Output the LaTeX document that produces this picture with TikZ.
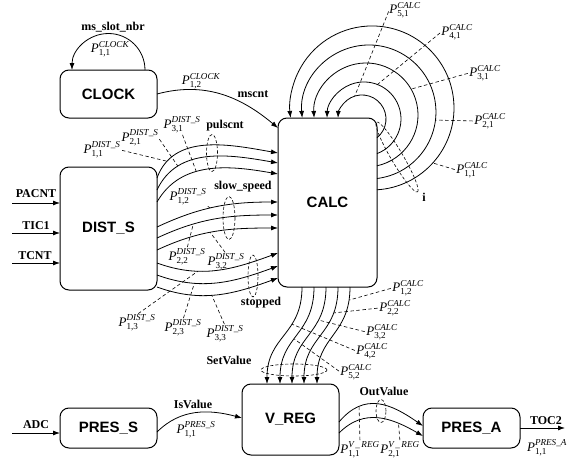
\documentclass[tikz,border=0pt]{standalone}
\usepackage{fontspec}
\setmainfont{Liberation Serif}
\setsansfont{Liberation Sans}
\usepackage{amsmath}
\usetikzlibrary{arrows.meta,calc,shapes.geometric}
\newcommand{\portp}[2]{$\textit{P}^{\textit{#1}}_{\text{#2}}$}

\begin{document}
\begin{tikzpicture}[
      x=1pt, y=-1pt,
      >={Latex[length=7pt,width=5pt]},
      flow/.style={->, line width=0.8pt},
      probe/.style={line width=0.6pt, dash pattern=on 3.5pt off 2.5pt, shorten <=1.5pt},
      task/.style={draw, line width=1pt, rounded corners=9pt, outer sep=0pt,
        minimum width=97pt, font=\sffamily\bfseries\fontsize{15}{17}\selectfont},
      signame/.style={font=\bfseries\fontsize{12}{14}\selectfont, inner sep=0pt},
      port/.style={font=\fontsize{13}{15}\selectfont, inner sep=0pt},
      bundle/.style={draw, ellipse, line width=0.6pt, dash pattern=on 3pt off 2pt, inner sep=0pt}
    ]
    \useasboundingbox (0,0) rectangle (571,466);

    % Tasks
    \node[task, minimum height=48pt] (clock) at (108.5,94) {CLOCK};
    \node[task, minimum width=99pt, minimum height=169pt] (calc) at (327.5,202.5) {CALC};
    \node[task, minimum height=123pt] (dist) at (108.5,228.5) {DIST\_S};
    \node[task, minimum height=40pt] (press) at (108.5,428) {PRES\_S};
    \node[task, minimum height=71pt] (vreg) at (290.5,419.5) {V\_REG};
    \node[task, minimum height=40pt] (presa) at (471.5,428) {PRES\_A};

    % Clock
    \draw[flow] ($(clock.north)+(36.5,0)$) arc[start angle=0, end angle=-180, radius=36.5];
    \node[signame] (slotnbr) at (113,27) {ms\_slot\_nbr};
    \node[port] (pk11) at (110,49) {\portp{CLOCK}{1,1}};
    \draw[flow] (clock.east) to[out=15, in=140] ($(calc.north west)+(0,10)$);
    \node[port] (pk12) at (201,81) {\portp{CLOCK}{1,2}};
    \node[signame] (mscnt) at (253,94) {mscnt};

    % Inputs of DIST_S
    \coordinate (pacnt) at (12,203);
    \coordinate (tic1) at (12,233);
    \coordinate (tcnt) at (12,263);
    \draw[flow] (pacnt) -- (pacnt -| dist.west);
    \draw[flow] (tic1) -- (tic1 -| dist.west);
    \draw[flow] (tcnt) -- (tcnt -| dist.west);
    \node[signame] (pacntl) at (36,194) {PACNT};
    \node[signame] (tic1l) at (36,226) {TIC1};
    \node[signame] (tcntl) at (35,256) {TCNT};

    % DIST_S to CALC: pulscnt
    \draw[flow] ($(dist.north east)+(0,11)$) to[out=70, in=170] coordinate[pos=0.15] (pu1) ($(calc.north west)+(0,35)$);
    \draw[flow] ($(dist.north east)+(0,23)$) to[out=65, in=170] coordinate[pos=0.25] (pu2) ($(calc.north west)+(0,45)$);
    \draw[flow] ($(dist.north east)+(0,35)$) to[out=60, in=170] coordinate[pos=0.4] (pu3) ($(calc.north west)+(0,56)$);
    \node[bundle, minimum width=11pt, minimum height=37pt] (pulsell) at (212,153) {};
    \node[signame] (pulscnt) at (225,126) {pulscnt};
    \node[port] (pd11) at (102,150) {\portp{DIST\_S}{1,1}};
    \node[port] (pd21) at (140,138) {\portp{DIST\_S}{2,1}};
    \node[port] (pd31) at (182,125) {\portp{DIST\_S}{3,1}};
    \draw[probe] (pd11.east) -- (pu1);
    \draw[probe] (pd21.east) -- (pu2);
    \draw[probe] (pd31.south) -- (pu3);

    % DIST_S to CALC: slow_speed
    \draw[flow] ($(dist.north east)+(0,60)$) to[out=25, in=180] coordinate[pos=0.45] (sl1) ($(calc.north west)+(0,84)$);
    \draw[flow] ($(dist.north east)+(0,71)$) to[out=25, in=180] coordinate[pos=0.3] (sl2) ($(calc.north west)+(0,97)$);
    \draw[flow] ($(dist.north east)+(0,83)$) to[out=25, in=180] coordinate[pos=0.45] (sl3) ($(calc.north west)+(0,110)$);
    \node[bundle, minimum width=12pt, minimum height=43pt] (slowell) at (229,218) {};
    \node[signame] (slowsp) at (243,187) {slow\_speed};
    \node[port] (pd12) at (188,197) {\portp{DIST\_S}{1,2}};
    \node[port] (pd22) at (187,257) {\portp{DIST\_S}{2,2}};
    \node[port] (pd32) at (226,262) {\portp{DIST\_S}{3,2}};
    \draw[probe] (pd12.south east) -- (sl1);
    \draw[probe] (pd22.north) -- (sl2);
    \draw[probe] (pd32.north) -- (sl3);

    % DIST_S to CALC: stopped
    \draw[flow] ($(dist.north east)+(0,96)$) to[out=-20, in=200] coordinate[pos=0.33] (st1) ($(calc.north west)+(0,135)$);
    \draw[flow] ($(dist.north east)+(0,108)$) to[out=-20, in=200] coordinate[pos=0.3] (st2) ($(calc.north west)+(0,148)$);
    \draw[flow] ($(dist.north east)+(0,120)$) to[out=-20, in=200] coordinate[pos=0.45] (st3) ($(calc.north west)+(0,160)$);
    \node[bundle, minimum width=10pt, minimum height=42pt] (stopell) at (253,276) {};
    \node[signame] (stopped) at (261,303) {stopped};
    \node[port] (pd13) at (137,323) {\portp{DIST\_S}{1,3}};
    \node[port] (pd23) at (183,328) {\portp{DIST\_S}{2,3}};
    \node[port] (pd33) at (225,334) {\portp{DIST\_S}{3,3}};
    \draw[probe] (pd13.north) -- (st1);
    \draw[probe] (pd23.north) -- (st2);
    \draw[probe] (pd33.north) -- (st3);

    % CALC loops
    \draw[flow] ($(calc.north east)+(0,19.7)$) arc[start angle=51.3, end angle=-177.6, radius=24];
    \draw[flow] ($(calc.north east)+(0,35.6)$) arc[start angle=69.4, end angle=-178.5, radius=37];
    \draw[flow] ($(calc.north east)+(0,47.8)$) arc[start angle=77.8, end angle=-183.3, radius=52];
    \draw[flow] ($(calc.north east)+(0,60.5)$) arc[start angle=83.1, end angle=-185.1, radius=67];
    \draw[flow] ($(calc.north east)+(0,71.8)$) arc[start angle=86.5, end angle=-187, radius=82];
    \coordinate (cl1) at ($(362,119)+(-107.6:24)$);
    \coordinate (cl2) at ($(364,119)+(-68.7:37)$);
    \coordinate (cl3) at ($(366,115)+(-29.9:52)$);
    \coordinate (cl4) at ($(369,112)+(6.9:67)$);
    \coordinate (cl5) at ($(372,108)+(42.1:82)$);
    \node[port] (pc51) at (405,10) {\portp{CALC}{5,1}};
    \node[port] (pc41) at (457,32) {\portp{CALC}{4,1}};
    \node[port] (pc31) at (485,73) {\portp{CALC}{3,1}};
    \node[port] (pc21) at (490,121) {\portp{CALC}{2,1}};
    \node[port] (pc11) at (472,170) {\portp{CALC}{1,1}};
    \draw[probe] (pc51.west) -- (cl1);
    \draw[probe] (pc41.west) -- (cl2);
    \draw[probe] (pc31.west) -- (cl3);
    \draw[probe] (pc21.west) -- (cl4);
    \draw[probe] (pc11.west) -- (cl5);
    \node[bundle, minimum width=81pt, minimum height=12pt, rotate=-59.6] (iell) at (397,157) {};
    \node[signame] (ilab) at (424,197) {i};

    % CALC to V_REG
    \draw[flow] ($(calc.south west)+(24,0)$) to[out=-90, in=90, looseness=1.2] coordinate[pos=0.35] (cv1) ($(vreg.north west)+(25,0)$);
    \draw[flow] ($(calc.south west)+(36,0)$) to[out=-90, in=90, looseness=1.2] coordinate[pos=0.55] (cv2) ($(vreg.north west)+(38,0)$);
    \draw[flow] ($(calc.south west)+(48,0)$) to[out=-90, in=90, looseness=1.2] coordinate[pos=0.3] (cv3) ($(vreg.north west)+(50,0)$);
    \draw[flow] ($(calc.south west)+(60,0)$) to[out=-90, in=90, looseness=1.2] coordinate[pos=0.22] (cv4) ($(vreg.north west)+(62,0)$);
    \draw[flow] ($(calc.south west)+(72,0)$) to[out=-90, in=90, looseness=1.2] coordinate[pos=0.1] (cv5) ($(vreg.north west)+(75,0)$);
    \node[port] (pc12) at (408,288) {\portp{CALC}{1,2}};
    \node[port] (pc22) at (395,308) {\portp{CALC}{2,2}};
    \node[port] (pc32) at (382,332) {\portp{CALC}{3,2}};
    \node[port] (pc42) at (372,351) {\portp{CALC}{4,2}};
    \node[port] (pc52) at (356,372) {\portp{CALC}{5,2}};
    \draw[probe] (pc12.west) -- (cv5);
    \draw[probe] (pc22.west) -- (cv4);
    \draw[probe] (pc32.west) -- (cv3);
    \draw[probe] (pc42.west) -- (cv1);
    \draw[probe] (pc52.west) -- (cv2);
    \node[bundle, minimum width=66pt, minimum height=12pt] (setell) at (294,370) {};
    \node[signame] (setval) at (229,360) {SetValue};

    % PRES_S to V_REG
    \coordinate (adc) at (12,433);
    \draw[flow] (adc) -- (adc -| press.west);
    \node[signame] (adcl) at (36,425) {ADC};
    \draw[flow] ($(press.east)+(0,4)$) to[out=45, in=165] ($(vreg.west)+(0,-1.5)$);
    \node[signame] (isval) at (193,404) {IsValue};
    \node[port] (pps) at (196,430) {\portp{PRES\_S}{1,1}};

    % V_REG to PRES_A
    \draw[flow] ($(vreg.east)+(0,2.5)$) to[out=50, in=145, looseness=1.2] coordinate[pos=0.26] (vr1) ($(presa.west)+(0,-2)$);
    \draw[flow] ($(vreg.east)+(0,13.5)$) to[out=45, in=150, looseness=1.1] coordinate[pos=0.73] (vr2) ($(presa.west)+(0,8)$);
    \node[bundle, minimum width=10pt, minimum height=23pt] (outell) at (381,411) {};
    \node[signame] (outval) at (384,391) {OutValue};
    \node[port] (pv1) at (360,450) {\portp{V\,\_\,REG}{1,1}};
    \node[port] (pv2) at (400,450) {\portp{V\,\_\,REG}{2,1}};
    \draw[probe] (pv1.north) -- (vr1);
    \draw[probe] (pv2.north) -- (vr2);

    % Output
    \coordinate (toc2) at (565,428);
    \draw[flow] (presa.east) -- (toc2);
    \node[signame] (toc2l) at (546,421) {TOC2};
    \node[port] (ppa) at (547,448) {\portp{PRES\_A}{1,1}};
  \end{tikzpicture}
\end{document}
